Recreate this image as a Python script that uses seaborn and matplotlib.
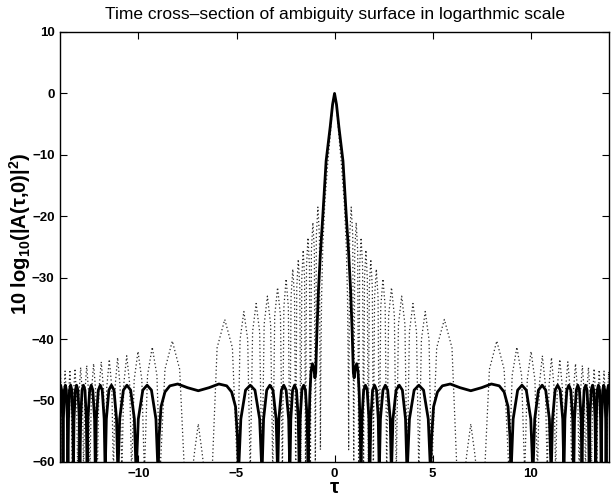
import numpy as np
import pandas as pd
import matplotlib
matplotlib.use("Agg")
import matplotlib.pyplot as plt
import seaborn as sns

# solid curve (weighted), tau and dB, one lobe per line
tau_solid = [
    -14.08, -14.06, -14.02, -13.97, -13.92, -13.87,
    -13.85, -13.83, -13.78, -13.73, -13.68, -13.63,
    -13.6, -13.57, -13.52, -13.46, -13.4, -13.35,
    -13.32, -13.29, -13.22, -13.16, -13.09, -13.02,
    -12.99, -12.95, -12.88, -12.81, -12.73, -12.66,
    -12.62, -12.58, -12.49, -12.41, -12.33, -12.24,
    -12.2, -12.15, -12.05, -11.95, -11.85, -11.75,
    -11.7, -11.64, -11.51, -11.38, -11.25, -11.12,
    -11.05, -10.96, -10.77, -10.59, -10.4, -10.21,
    -10.12, -10.01, -9.78, -9.56, -9.34, -9.11,
    -9.0, -8.95, -8.85, -8.65, -8.4, -8.0, -7.5, -6.95, -6.4, -5.9, -5.5, -5.25, -5.05, -4.95,
    -4.9, -4.78, -4.54, -4.3, -4.06, -3.82,
    -3.7, -3.62, -3.46, -3.3, -3.14, -2.98,
    -2.9, -2.84, -2.71, -2.59, -2.47, -2.34,
    -2.28, -2.23, -2.14, -2.04, -1.94, -1.85,
    -1.8, -1.755, -1.665, -1.575, -1.485, -1.395,
    -1.35, -1.31, -1.26, -1.2, -1.13, -1.06, -1.0, -0.96, -0.9, -0.82, -0.72, -0.6, -0.43, -0.22, -0.1,
    0.0,
    0.1, 0.22, 0.43, 0.6, 0.72, 0.82, 0.9, 0.96, 1.0, 1.06, 1.13, 1.2, 1.26, 1.31, 1.35,
    1.395, 1.485, 1.575, 1.665, 1.755, 1.8,
    1.85, 1.94, 2.04, 2.14, 2.23, 2.28,
    2.34, 2.47, 2.59, 2.71, 2.84, 2.9,
    2.98, 3.14, 3.3, 3.46, 3.62, 3.7,
    3.82, 4.06, 4.3, 4.54, 4.78, 4.9,
    4.95, 5.05, 5.25, 5.5, 5.9, 6.4, 6.95, 7.5, 8.0, 8.4, 8.65, 8.85, 8.95, 9.0,
    9.11, 9.34, 9.56, 9.78, 10.01, 10.12,
    10.21, 10.4, 10.59, 10.77, 10.96, 11.05,
    11.12, 11.25, 11.38, 11.51, 11.64, 11.7,
    11.75, 11.85, 11.95, 12.05, 12.15, 12.2,
    12.24, 12.33, 12.41, 12.49, 12.58, 12.62,
    12.66, 12.73, 12.81, 12.88, 12.95, 12.99,
    13.02, 13.09, 13.16, 13.22, 13.29, 13.32,
    13.35, 13.4, 13.46, 13.52, 13.57, 13.6,
    13.63, 13.68, 13.73, 13.78, 13.83, 13.85,
    13.87, 13.92, 13.97, 14.02, 14.06, 14.08,
]
db_solid = [
    -62, -53, -48.3, -47.5, -48.3, -53,
    -62, -53, -48.3, -47.5, -48.3, -53,
    -62, -53, -48.3, -47.5, -48.3, -53,
    -62, -53, -48.3, -47.5, -48.3, -53,
    -62, -53, -48.3, -47.5, -48.3, -53,
    -62, -53, -48.3, -47.5, -48.3, -53,
    -62, -53, -48.3, -47.5, -48.3, -53,
    -62, -53, -48.3, -47.5, -48.3, -53,
    -62, -53, -48.3, -47.5, -48.3, -53,
    -62, -53, -48.3, -47.5, -48.3, -53,
    -62, -56, -51, -48.6, -47.6, -47.3, -47.9, -48.4, -47.9, -47.3, -47.6, -48.6, -51, -56,
    -62, -53, -48.3, -47.5, -48.3, -53,
    -62, -53, -48.3, -47.5, -48.3, -53,
    -62, -53, -48.3, -47.5, -48.3, -53,
    -62, -53, -48.3, -47.5, -48.3, -53,
    -62, -53, -48.3, -47.5, -48.3, -53,
    -62, -55, -49, -45.3, -44, -44.8, -46.3, -45.5, -39, -32, -26, -20, -11, -5.4, -1.8,
    0.0,
    -1.8, -5.4, -11, -20, -26, -32, -39, -45.5, -46.3, -44.8, -44, -45.3, -49, -55, -62,
    -53, -48.3, -47.5, -48.3, -53, -62,
    -53, -48.3, -47.5, -48.3, -53, -62,
    -53, -48.3, -47.5, -48.3, -53, -62,
    -53, -48.3, -47.5, -48.3, -53, -62,
    -53, -48.3, -47.5, -48.3, -53, -62,
    -56, -51, -48.6, -47.6, -47.3, -47.9, -48.4, -47.9, -47.3, -47.6, -48.6, -51, -56, -62,
    -53, -48.3, -47.5, -48.3, -53, -62,
    -53, -48.3, -47.5, -48.3, -53, -62,
    -53, -48.3, -47.5, -48.3, -53, -62,
    -53, -48.3, -47.5, -48.3, -53, -62,
    -53, -48.3, -47.5, -48.3, -53, -62,
    -53, -48.3, -47.5, -48.3, -53, -62,
    -53, -48.3, -47.5, -48.3, -53, -62,
    -53, -48.3, -47.5, -48.3, -53, -62,
    -53, -48.3, -47.5, -48.3, -53, -62,
    -53, -48.3, -47.5, -48.3, -53, -62,
]

# dotted curve (unweighted)
tau_dot = [
    -14.1, -14.05, -13.985, -13.92,
    -13.87, -13.82, -13.745, -13.67,
    -13.62, -13.57, -13.5, -13.43,
    -13.38, -13.32, -13.24, -13.16,
    -13.1, -13.04, -12.95, -12.86,
    -12.8, -12.74, -12.64, -12.54,
    -12.48, -12.4, -12.29, -12.18,
    -12.1, -12.02, -11.9, -11.78,
    -11.7, -11.62, -11.49, -11.36,
    -11.28, -11.19, -11.065, -10.94,
    -10.85, -10.75, -10.6, -10.45,
    -10.35, -10.22, -10.025, -9.83,
    -9.7, -9.54, -9.3, -9.06,
    -8.9, -8.65, -8.275, -7.9,
    -7.65,
    -7.27, -7.142, -6.95, -6.758,
    -6.63,
    -6.25, -5.99, -5.6, -5.21,
    -4.95, -4.82, -4.625, -4.43,
    -4.3, -4.18, -4.0, -3.82,
    -3.7, -3.59, -3.425, -3.26,
    -3.15, -3.052, -2.905, -2.758,
    -2.66, -2.584, -2.47, -2.356,
    -2.28, -2.22, -2.13, -2.04,
    -1.98, -1.928, -1.85, -1.772,
    -1.72, -1.672, -1.6, -1.528,
    -1.48, -1.43, -1.355, -1.28,
    -1.23, -1.18, -1.105, -1.03,
    -0.98, -0.928, -0.85, -0.772,
    -0.72, -0.7, -0.66, -0.6, -0.5, -0.35, -0.2, -0.1,
    0.0,
    0.1, 0.2, 0.35, 0.5, 0.6, 0.66, 0.7, 0.72,
    0.772, 0.85, 0.928, 0.98,
    1.03, 1.105, 1.18, 1.23,
    1.28, 1.355, 1.43, 1.48,
    1.528, 1.6, 1.672, 1.72,
    1.772, 1.85, 1.928, 1.98,
    2.04, 2.13, 2.22, 2.28,
    2.356, 2.47, 2.584, 2.66,
    2.758, 2.905, 3.052, 3.15,
    3.26, 3.425, 3.59, 3.7,
    3.82, 4.0, 4.18, 4.3,
    4.43, 4.625, 4.82, 4.95,
    5.21, 5.6, 5.99, 6.25,
    6.63,
    6.758, 6.95, 7.142, 7.27,
    7.65,
    7.9, 8.275, 8.65, 8.9,
    9.06, 9.3, 9.54, 9.7,
    9.83, 10.025, 10.22, 10.35,
    10.45, 10.6, 10.75, 10.85,
    10.94, 11.065, 11.19, 11.28,
    11.36, 11.49, 11.62, 11.7,
    11.78, 11.9, 12.02, 12.1,
    12.18, 12.29, 12.4, 12.48,
    12.54, 12.64, 12.74, 12.8,
    12.86, 12.95, 13.04, 13.1,
    13.16, 13.24, 13.32, 13.38,
    13.43, 13.5, 13.57, 13.62,
    13.67, 13.745, 13.82, 13.87,
    13.92, 13.985, 14.05, 14.1,
]
db_dot = [
    -62, -49.9, -45.3, -49.9,
    -62, -49.8, -45.2, -49.8,
    -62, -49.6, -45, -49.6,
    -62, -49.4, -44.8, -49.4,
    -62, -49.2, -44.6, -49.2,
    -62, -48.9, -44.3, -48.9,
    -62, -48.6, -44, -48.6,
    -62, -48.3, -43.7, -48.3,
    -62, -47.9, -43.3, -47.9,
    -62, -47.6, -43, -47.6,
    -62, -47.3, -42.7, -47.3,
    -62, -46.6, -42, -46.6,
    -62, -45.9, -41.3, -45.9,
    -62, -44.9, -40.3, -44.9,
    -62,
    -62, -58.4, -53.8, -58.4,
    -62,
    -62, -41.4, -36.8, -41.4,
    -62, -40.1, -35.5, -40.1,
    -62, -38.8, -34.2, -38.8,
    -62, -37.6, -33, -37.6,
    -62, -36.2, -31.6, -36.2,
    -62, -34.8, -30.2, -34.8,
    -62, -33.2, -28.6, -33.2,
    -62, -31.6, -27, -31.6,
    -62, -30.1, -25.5, -30.1,
    -62, -28.1, -23.5, -28.1,
    -62, -25.6, -21, -25.6,
    -62, -23.1, -18.5, -23.1,
    -58, -45, -33, -25, -18, -11.5, -6, -2,
    0.0,
    -2, -6, -11.5, -18, -25, -33, -45, -58,
    -23.1, -18.5, -23.1, -62,
    -25.6, -21, -25.6, -62,
    -28.1, -23.5, -28.1, -62,
    -30.1, -25.5, -30.1, -62,
    -31.6, -27, -31.6, -62,
    -33.2, -28.6, -33.2, -62,
    -34.8, -30.2, -34.8, -62,
    -36.2, -31.6, -36.2, -62,
    -37.6, -33, -37.6, -62,
    -38.8, -34.2, -38.8, -62,
    -40.1, -35.5, -40.1, -62,
    -41.4, -36.8, -41.4, -62,
    -62,
    -58.4, -53.8, -58.4, -62,
    -62,
    -44.9, -40.3, -44.9, -62,
    -45.9, -41.3, -45.9, -62,
    -46.6, -42, -46.6, -62,
    -47.3, -42.7, -47.3, -62,
    -47.6, -43, -47.6, -62,
    -47.9, -43.3, -47.9, -62,
    -48.3, -43.7, -48.3, -62,
    -48.6, -44, -48.6, -62,
    -48.9, -44.3, -48.9, -62,
    -49.2, -44.6, -49.2, -62,
    -49.4, -44.8, -49.4, -62,
    -49.6, -45, -49.6, -62,
    -49.8, -45.2, -49.8, -62,
    -49.9, -45.3, -49.9, -62,
]

x_ticks = [-10, -5, 0, 5, 10]
y_ticks = [-60, -50, -40, -30, -20, -10, 0, 10]

sns.set_style("ticks")
plt.rcParams["font.family"] = ["Liberation Sans", "DejaVu Sans"]
plt.rcParams["mathtext.fontset"] = "custom"
plt.rcParams["mathtext.rm"] = "Liberation Sans:bold"
plt.rcParams["mathtext.default"] = "rm"
# plain black text and frame like the original
plt.rcParams.update({"text.color": "black", "axes.labelcolor": "black",
                     "xtick.color": "black", "ytick.color": "black",
                     "axes.edgecolor": "black"})

df_solid = pd.DataFrame({"tau": tau_solid, "db": db_solid})
df_dot = pd.DataFrame({"tau": tau_dot, "db": db_dot})

fig = plt.figure(figsize=(6.13, 5.0), dpi=100)
ax = fig.add_axes([0.098, 0.076, 0.8955, 0.86])

sns.lineplot(data=df_dot, x="tau", y="db", sort=False, estimator=None,
             color="0.15", linewidth=0.9, linestyle=(0, (1, 2)), ax=ax)
sns.lineplot(data=df_solid, x="tau", y="db", sort=False, estimator=None,
             color="black", linewidth=2.0, ax=ax)

ax.set_xlim(-14, 14)
ax.set_ylim(-60, 10)
ax.set_xticks(x_ticks)
ax.set_yticks(y_ticks)
ax.tick_params(direction="in", top=True, right=True, length=5, width=0.8,
               labelsize=9.5, pad=4)
for lab in ax.get_xticklabels() + ax.get_yticklabels():
    lab.set_fontweight("bold")
for s in ax.spines.values():
    s.set_linewidth(1.0)

ax.set_title("Time cross\u2013section of ambiguity surface in logarthmic scale",
             fontsize=12.5, pad=9)
ax.set_xlabel("\u03c4", fontsize=15, fontweight="bold", labelpad=-1)
ax.set_ylabel("10 log$_{10}$(|A(\u03c4,0)|$^2$)", fontsize=14.5,
              fontweight="bold")
ax.yaxis.set_label_coords(-0.05, 0.53)

fig.savefig("out.png", dpi=100)
